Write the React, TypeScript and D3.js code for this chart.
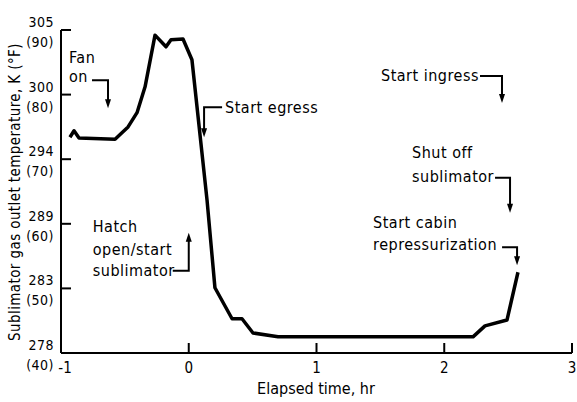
import React from "react";
import * as d3 from "d3";

// elapsed time (hr) and outlet temperature (deg F)
const times = [-0.93, -0.898, -0.859, -0.577, -0.475, -0.405, -0.342, -0.264, -0.178, -0.139, -0.045, 0.025,
    0.143, 0.205, 0.339, 0.417, 0.503, 0.699, 2.225, 2.319, 2.491, 2.577];
const tempsF = [73.4, 74.4, 73.3, 73.1, 75.0, 77.2, 81.2, 89.2, 87.4, 88.5, 88.6, 85.4,
    63.7, 50.1, 45.3, 45.3, 43.1, 42.5, 42.5, 44.2, 45.1, 52.5];

const xTicks = [-1, 0, 1, 2, 3];
const yTicksF = [90, 80, 70, 60, 50, 40];
const yTickK = ["305", "300", "294", "289", "283", "278"];

// event markers: time / temperature of the arrow tip
const eventLabels = [["Fan", "on"], ["Start egress"], ["Hatch", "open/start", "sublimator"],
    ["Start ingress"], ["Shut off", "sublimator"], ["Start cabin", "repressurization"]];
const eventTimes = [-0.632, 0.12, 0, 2.452, 2.515, 2.57];
const eventTemps = [77.9, 73.4, 58.6, 78.7, 61.7, 53.6];

const W = 577;
const H = 402;
const FONT = "'DejaVu Sans Condensed', 'DejaVu Sans', sans-serif";

// leader layout per marker: hook (dx to leader start), drop (tip - leader y), text x/y offsets from tip
const leaderLayout = [
    { hook: -16, drop: 28, tx: -39, ty: [-45, -26] },
    { hook: 18, drop: 30, tx: 21, ty: [-24] },
    { hook: -16, drop: -38, tx: -96, ty: [-1, 22, 43] },
    { hook: -22, drop: 27, tx: -121, ty: [-22] },
    { hook: -15, drop: 35, tx: -98, ty: [-55, -31] },
    { hook: -15, drop: 18, tx: -144, ty: [-37, -15] },
];

export default function App() {
    const x = d3.scaleLinear([-1, 3], [61, 572]);
    const y = d3.scaleLinear([40, 90], [353, 30]);

    const line = d3.line<number>()
        .x((d, i) => x(times[i]))
        .y((d) => y(d));

    const x0 = x(-1);
    const y0 = y(40);

    return <svg width={W} height={H} style={{ position: "absolute", left: 0, top: 0, background: "white" }}
        fontFamily={FONT}>
        <rect width={W} height={H} fill="white" />

        {/* axes */}
        <g stroke="black" strokeWidth={2} fill="none">
            <line x1={x0} x2={x0} y1={y(90)} y2={y0} />
            <line x1={x0} x2={x(3)} y1={y0} y2={y0} />
            {yTicksF.map((t) => <line key={"yt" + t} x1={x0} x2={x0 + 10} y1={y(t)} y2={y(t)} />)}
            {xTicks.map((t) => <line key={"xt" + t} x1={x(t)} x2={x(t)} y1={y0} y2={y0 - 10} />)}
        </g>

        <g fontSize={14} letterSpacing={0.5} textAnchor="end" fill="black">
            {yTicksF.map((t, i) => <g key={"yl" + t}>
                <text x={54} y={y(t) - 7} dominantBaseline="middle">{yTickK[i]}</text>
                <text x={54} y={y(t) + 13} dominantBaseline="middle">({t})</text>
            </g>)}
        </g>

        <g fontSize={15} textAnchor="middle" fill="black">
            {xTicks.map((t) => <text key={"xl" + t} x={x(t) + (t < 0 ? 4 : 0)} y={373}>{t}</text>)}
        </g>

        <text x={316} y={394} fontSize={16} textAnchor="middle">Elapsed time, hr</text>
        <text transform={`translate(20,192) rotate(-90)`} fontSize={15} letterSpacing={0.4} textAnchor="middle">
            Sublimator gas outlet temperature, K (°F)
        </text>

        {/* temperature trace */}
        <path d={line(tempsF)!} fill="none" stroke="black" strokeWidth={3.5} strokeLinejoin="round" />

        {/* event annotations */}
        <g fontSize={16} letterSpacing={0.5}>
            {eventLabels.map((lines, i) => {
                const tipX = x(eventTimes[i]);
                const tipY = y(eventTemps[i]);
                const L = leaderLayout[i];
                const ly = tipY - L.drop;
                const dir = L.drop > 0 ? 1 : -1;
                return <g key={"ev" + i}>
                    <polyline points={`${tipX + L.hook},${ly} ${tipX},${ly} ${tipX},${tipY - dir * 6}`}
                        fill="none" stroke="black" strokeWidth={2} />
                    <path d={`M${tipX},${tipY} L${tipX - 3},${tipY - dir * 9} L${tipX + 3},${tipY - dir * 9} Z`} fill="black" />
                    {lines.map((s, j) => <text key={j} x={tipX + L.tx} y={tipY + L.ty[j]}>{s}</text>)}
                </g>;
            })}
        </g>
    </svg>;
}
